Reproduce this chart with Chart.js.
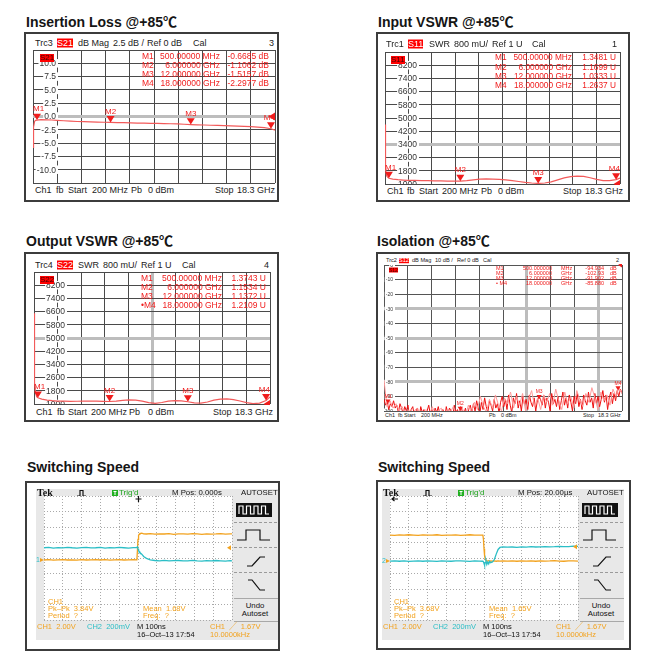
<!DOCTYPE html>
<html>
<head>
<meta charset="utf-8">
<title>Switch test data @+85℃</title>
<script src="https://cdn.jsdelivr.net/npm/chart.js@4.4.1/dist/chart.umd.min.js"></script>
<style>
  html, body { margin: 0; padding: 0; background: #fff; }
  body { position: relative; width: 654px; height: 671px; overflow: hidden;
         font-family: "Liberation Sans", Arial, "Noto Sans CJK SC", sans-serif; color: #222; }
  .title { position: absolute; font-size: 14px; font-weight: bold; line-height: 1; color: #151515; white-space: nowrap; }
  .box { position: absolute; box-sizing: border-box; border: 2px solid #3c3c3c; background: #fff; }
  .panel { position: absolute; background: #e8e8e8; }
  .txt { position: absolute; line-height: 1; white-space: pre; }
  canvas { position: absolute; }
  svg { position: absolute; overflow: visible; }
</style>
</head>
<body>
<script>
// ---- sweep / network analyser data (GHz, dB, mU) ----
const sweepStartGHz = 0.2;
const sweepStopGHz = 18.3;
const sweepFreq = [0.2, 0.22, 0.26, 0.32, 0.4, 0.5, 0.8, 1.2, 1.6, 2, 2.5, 3, 3.5, 4, 4.5, 5, 5.5, 6,
    6.5, 7, 7.5, 8, 8.5, 9, 9.5, 10, 10.5, 11, 11.5, 12, 12.5, 13, 13.5, 14, 14.5, 15, 15.5, 16,
    16.5, 17, 17.5, 18, 18.3];
const insertionLoss = [-5.8, -4.2, -2.0, -0.9, -0.72, -0.67, -0.6, -0.62, -0.66, -0.72,
    -0.8, -0.88, -0.94, -0.98, -1.02, -1.05, -1.08, -1.11, -1.14, -1.17, -1.2, -1.23, -1.26, -1.28,
    -1.3, -1.33, -1.36, -1.4, -1.46, -1.52, -1.56, -1.6, -1.64, -1.68, -1.72, -1.76, -1.8, -1.86,
    -1.92, -1.98, -2.08, -2.3, -2.55];
const inputVswr = [4600, 3000, 1900, 1500, 1420, 1348, 1300, 1260, 1240, 1225,
    1215, 1205, 1200, 1190, 1185, 1178, 1172, 1170, 1200, 1250, 1290, 1305, 1300, 1285,
    1250, 1200, 1150, 1100, 1060, 1033, 1060, 1130, 1250, 1370, 1450, 1480, 1460, 1380,
    1280, 1210, 1200, 1264, 1360];
const outputVswr = [6500, 3900, 2300, 1700, 1450, 1374, 1300, 1240, 1200, 1180,
    1170, 1165, 1168, 1175, 1178, 1172, 1160, 1153, 1180, 1220, 1245, 1230, 1170, 1080,
    1040, 1090, 1170, 1210, 1190, 1137, 1070, 1050, 1120, 1230, 1300, 1310, 1270, 1180,
    1080, 1020, 1050, 1211, 1420];
// isolation sweep points (trace and memory), dB
const isolationTrace = [-92, -96, -94, -99, -95, -97, -93, -98, -96, -101, -95,
    -98, -102, -97, -100, -96, -104, -99, -97, -103, -100,
    -98, -105, -97, -101, -99, -103, -100, -96, -102, -99,
    -104, -98, -101, -97, -103, -100, -99, -105, -97, -102,
    -98, -100, -104, -96, -101, -99, -103, -97, -100, -102,
    -98, -104, -99, -96, -101,
    -95, -100, -93, -98, -102, -94, -99, -91, -97, -101, -93, -96, -100, -92, -98, -95, -101,
    -94, -90, -97, -92, -99, -89, -96, -101, -91, -95, -88, -98, -93, -100, -90, -96, -92, -99,
    -89, -94, -97, -91, -100, -93, -90,
    -92, -96, -89, -98, -91, -94, -100, -88, -95, -92,
    -97, -90, -99, -93, -87, -96, -91, -98, -89, -94,
    -100, -90, -95, -88, -97, -92, -99, -89, -93, -96,
    -87, -94, -91, -98, -88, -95, -90, -97, -92, -86,
    -94, -89, -99, -91, -87, -95, -88, -93, -86, -90,
    -85, -88];
const isolationMemory = [-79, -97, -93, -98, -95, -100, -97, -101, -99, -102,
    -100, -98, -103, -101, -99, -104, -97, -102, -100, -98, -105, -99, -101, -97, -103, -100,
    -98, -104, -96, -101,
    -94, -99, -90, -97, -101, -92, -98, -89, -96, -100,
    -91, -95, -87, -98, -90, -96, -88, -100, -92, -86, -97, -91, -99, -89, -94,
    -88, -96, -85, -93, -99, -87, -95, -90, -98, -86, -92, -97, -88, -94, -84, -91, -99, -87,
    -93, -89, -96, -85, -90, -84, -88];

const markerNames = ['M1', 'M2', 'M3', 'M4'];
const markerFreq = [0.5, 6, 12, 18];
const markerStim = ['500.00000 MHz', '6.000000 GHz', '12.000000 GHz', '18.000000 GHz'];
const ilMarkers = [-0.6685, -1.1062, -1.5157, -2.2977];
const ilReadout = ['-0.6685 dB', '-1.1062 dB', '-1.5157 dB', '-2.2977 dB'];
const s11Markers = [1348.1, 1169.9, 1033.3, 1263.7];
const s11Readout = ['1.3481 U', '1.1699 U', '1.0333 U', '1.2637 U'];
const s22Markers = [1374.3, 1153.4, 1137.2, 1210.9];
const s22Readout = ['1.3743 U', '1.1534 U', '1.1372 U', '1.2109 U'];
const isoMarkers = [-94.934, -102.93, -91.902, -85.880];
const isoStim = ['500.000000', '6.000000', '12.000000', '18.000000'];
const isoUnit = ['MHz', 'GHz', 'GHz', 'GHz'];
const isoReadout = ['-94.934', '-102.93', '-91.902', '-85.880'];

const ilTicks = [-12.5, -10, -7.5, -5, -2.5, 0, 2.5, 5, 7.5, 10, 12.5];
const ilTickLabels = ['', '-10.0', '-7.5', '-5.0', '-2.5', '0.0', '2.5', '5.0', '7.5', '10.0', ''];
const vswrTicks = [1000, 1800, 2600, 3400, 4200, 5000, 5800, 6600, 7400, 8200, 9000];
const vswrTickLabels = ['1000', '1800', '2600', '3400', '4200', '5000', '5800', '6600', '7400', '8200', ''];
const isoTicks = [-100, -90, -80, -70, -60, -50, -40, -30, -20, -10, 0];
const isoTickLabels = ['-100', '-90', '-80', '-70', '-60', '-50', '-40', '-30', '-20', '-10', '0'];

// ---- oscilloscope data (ns, divisions) ----
const scopeTimeTicks = [-500, -400, -300, -200, -100, 0, 100, 200, 300, 400, 500];
const scopeDivTicks = [-4, -3, -2, -1, 0, 1, 2, 3, 4];
const riseTime = [-500, -475, -450, -425, -400, -375, -350, -325, -300, -275, -250, -225, -200, -175,
    -150, -125, -100, -75, -50, -25, -6, -3, 0, 3, 6, 10, 20, 30, 45, 65, 90, 115, 140, 165, 190,
    215, 240, 265, 290, 315, 340, 365, 390, 415, 440, 465, 490, 500];
const riseCh1 = [-0.13, -0.11, -0.14, -0.12, -0.1, -0.13, -0.12, -0.14, -0.11, -0.13, -0.12, -0.1,
    -0.13, -0.11, -0.14, -0.12, -0.1, -0.13, -0.12, -0.11, -0.12, 0.5, 1.2, 1.45, 1.52, 1.58, 1.6,
    1.56, 1.55, 1.57, 1.54, 1.56, 1.55, 1.57, 1.53, 1.56, 1.55, 1.54, 1.57, 1.55, 1.53, 1.56, 1.54,
    1.55, 1.57, 1.54, 1.56, 1.55];
const riseCh2 = [0.66, 0.68, 0.64, 0.67, 0.65, 0.69, 0.66, 0.64, 0.67, 0.68, 0.65, 0.66, 0.69, 0.64,
    0.67, 0.65, 0.68, 0.66, 0.64, 0.67, 0.68, 0.72, 0.6, 0.5, 0.42, 0.35, 0.25, 0.1, -0.02, -0.12,
    -0.16, -0.18, -0.15, -0.19, -0.17, -0.16, -0.19, -0.18, -0.15, -0.18, -0.2, -0.17, -0.19, -0.16,
    -0.18, -0.2, -0.17, -0.19];
const fallTime = [-500, -475, -450, -425, -400, -375, -350, -325, -300, -275, -250, -225, -200, -175,
    -150, -125, -100, -75, -50, -25, -6, -3, 0, 3, 6, 10, 15, 20, 25, 30, 35, 45, 55, 65, 75, 85, 100,
    125, 150, 175, 200, 225, 250, 275, 300, 325, 350, 375, 400, 425, 450, 475, 500];
const fallCh1 = [1.48, 1.46, 1.49, 1.47, 1.5, 1.48, 1.46, 1.49, 1.47, 1.48, 1.5, 1.46, 1.48, 1.47,
    1.49, 1.46, 1.48, 1.5, 1.47, 1.48, 1.47, 1.2, 0.6, 0.15, -0.05, -0.12, -0.18, -0.2, -0.17, -0.21,
    -0.19, -0.2, -0.18, -0.21, -0.19, -0.2, -0.18, -0.2, -0.19, -0.21, -0.18, -0.2, -0.19, -0.21,
    -0.18, -0.2, -0.19, -0.17, -0.2, -0.21, -0.19, -0.18, -0.2];
const fallCh2 = [-0.2, -0.18, -0.21, -0.19, -0.22, -0.2, -0.18, -0.21, -0.19, -0.2, -0.22, -0.18,
    -0.2, -0.21, -0.19, -0.18, -0.2, -0.22, -0.19, -0.2, -0.21, -0.25, -0.35, -0.48, -0.3, -0.15,
    -0.42, -0.25, -0.38, -0.22, -0.3, -0.25, -0.1, 0.25, 0.55, 0.68, 0.72, 0.7, 0.71, 0.69, 0.72,
    0.7, 0.73, 0.71, 0.72, 0.74, 0.72, 0.73, 0.75, 0.73, 0.74, 0.76, 0.75];

const red = '#f01c1c';
const orange = '#f2a21e';
const teal = '#2bbec6';

// ---------- helpers ----------
function addDiv(cls, x, y, w, h) {
    const el = document.createElement('div');
    el.className = cls;
    el.style.left = x + 'px';
    el.style.top = y + 'px';
    if (w) el.style.width = w + 'px';
    if (h) el.style.height = h + 'px';
    document.body.appendChild(el);
    return el;
}

function addTitle(x, y, text) {
    addDiv('title', x, y).textContent = text;
}

function addText(x, y, text, opt) {
    opt = opt || {};
    const el = addDiv('txt', x, y);
    el.textContent = text;
    el.style.fontSize = (opt.size || 9) + 'px';
    if (opt.color) el.style.color = opt.color;
    if (opt.bg) el.style.background = opt.bg;
    if (opt.bold) el.style.fontWeight = 'bold';
    if (opt.family) el.style.fontFamily = opt.family;
    el.style.transform = opt.align === 'right' ? 'translate(-100%,-50%)'
        : opt.align === 'center' ? 'translate(-50%,-50%)' : 'translateY(-50%)';
    return el;
}

function addCanvas(x, y, w, h) {
    const c = document.createElement('canvas');
    c.width = w;
    c.height = h;
    c.style.left = x + 'px';
    c.style.top = y + 'px';
    c.style.width = w + 'px';
    c.style.height = h + 'px';
    document.body.appendChild(c);
    return c;
}

function addSvg(x, y, w, h, inner) {
    const d = addDiv('', x, y);
    d.style.position = 'absolute';
    d.innerHTML = '<svg width="' + w + '" height="' + h + '" style="position:static">' + inner + '</svg>';
    return d;
}

// ---------- network analyser panels ----------
const vnaDecor = {
    id: 'vnaDecor',
    beforeDatasetsDraw(chart, args, o) {
        const { ctx, chartArea: a, scales: { y } } = chart;
        ctx.save();
        ctx.beginPath();
        ctx.rect(a.left, a.top, a.right - a.left, a.bottom - a.top);
        ctx.clip();
        ctx.font = o.fontPx + 'px "Liberation Sans", Arial, sans-serif';
        ctx.textAlign = 'right';
        ctx.textBaseline = 'middle';
        o.ticks.forEach((v, i) => {
            const t = o.tickLabels[i];
            if (!t) return;
            const py = y.getPixelForValue(v);
            const w = ctx.measureText(t).width;
            const rx = a.left + o.labelRight;
            ctx.fillStyle = '#fff';
            ctx.fillRect(rx - w - 1, py - o.fontPx / 2, w + 3, o.fontPx);
            ctx.fillStyle = '#333';
            ctx.fillText(t, rx, py + 0.5);
        });
        ctx.restore();
    },
    afterDatasetsDraw(chart, args, o) {
        const { ctx, chartArea: a, scales: { x, y } } = chart;
        const s = o.markSize;
        ctx.save();
        ctx.fillStyle = red;
        ctx.font = o.markFont + 'px "Liberation Sans", Arial, sans-serif';
        ctx.textAlign = 'center';
        ctx.textBaseline = 'bottom';
        o.markerVals.forEach((v, i) => {
            const px = x.getPixelForValue(o.markerFreq[i]);
            const py = Math.min(y.getPixelForValue(v), a.bottom);
            ctx.beginPath();
            ctx.moveTo(px - s, py - s * 1.6);
            ctx.lineTo(px + s, py - s * 1.6);
            ctx.lineTo(px, py);
            ctx.closePath();
            ctx.fill();
            const lx = Math.max(a.left + o.markFont * 0.7, Math.min(px, a.right - o.markFont * 0.7));
            ctx.fillText(o.markerNames[i], lx, py - s * 1.6 - 0.5);
        });
        // reference level arrow on the right edge
        const ry = y.getPixelForValue(o.refLevel);
        const r = o.refSize;
        ctx.beginPath();
        ctx.moveTo(a.right, ry - r);
        ctx.lineTo(a.right, ry + r);
        ctx.lineTo(a.right - r * 1.6, ry);
        ctx.closePath();
        ctx.fill();
        ctx.restore();
    }
};

function vnaChart(p) {
    const r = p.rect;
    const c = addCanvas(r.l - 1, r.t - 1, r.r - r.l + 2, r.b - r.t + 2);
    const xGrid = [];
    for (let k = 0; k <= 10; k++) xGrid.push(sweepStartGHz + k * (sweepStopGHz - sweepStartGHz) / 10);
    const thickColor = '#bdbdbd';
    return new Chart(c, {
        type: 'line',
        data: {
            datasets: p.traces.map(t => ({
                data: t.x.map((f, i) => ({ x: f, y: t.y[i] })),
                borderColor: t.color,
                borderWidth: t.width || 1.2,
                pointRadius: 0,
                tension: 0
            }))
        },
        options: {
            responsive: false,
            animation: false,
            devicePixelRatio: 1,
            layout: { padding: 1 },
            plugins: { legend: { display: false }, tooltip: { enabled: false }, vnaDecor: p.decor },
            scales: {
                x: {
                    type: 'linear', min: sweepStartGHz, max: sweepStopGHz,
                    afterBuildTicks: s => { s.ticks = xGrid.map(v => ({ value: v })); },
                    ticks: { display: false },
                    border: { display: false },
                    grid: {
                        drawTicks: false,
                        color: ctx => p.thickX.includes(ctx.index) ? thickColor : p.gridColor,
                        lineWidth: ctx => p.thickX.includes(ctx.index) ? 3 : 1
                    }
                },
                y: {
                    type: 'linear', min: p.ticks[0], max: p.ticks[p.ticks.length - 1],
                    afterBuildTicks: s => { s.ticks = p.ticks.map(v => ({ value: v })); },
                    ticks: { display: false },
                    border: { display: false },
                    grid: {
                        drawTicks: false,
                        color: ctx => p.thickY.includes(ctx.tick.value) ? thickColor : p.gridColor,
                        lineWidth: ctx => p.thickY.includes(ctx.tick.value) ? 3 : 1
                    }
                }
            }
        },
        plugins: [vnaDecor]
    });
}

function vnaText(rows, y, size) {
    rows.forEach(r => addText(r[0], y, r[1], Object.assign({ size: size }, r[2] || {})));
}

function markerTable(names, stim, vals, cols, rowsY, size, extra) {
    names.forEach((n, i) => {
        addText(cols[0], rowsY[i], n, { size: size, color: red });
        addText(cols[1], rowsY[i], stim[i], { size: size, color: red, align: 'right' });
        if (extra) addText(cols[3], rowsY[i], extra[i], { size: size, color: red });
        addText(cols[2], rowsY[i], vals[i], { size: size, color: red, align: 'right' });
    });
}

const badge = { color: '#fff', bg: '#f00' };
const plotBadge = { color: '#400', bg: '#f00' };

// boxes and titles
addTitle(26, 15, 'Insertion Loss @+85℃');
addTitle(378, 15, 'Input VSWR @+85℃');
addTitle(26, 233.5, 'Output VSWR @+85℃');
addTitle(377, 233.5, 'Isolation @+85℃');
addTitle(27, 460, 'Switching Speed');
addTitle(378, 460, 'Switching Speed');
addDiv('box', 24, 32, 255, 170);
addDiv('box', 376, 32, 254, 170);
addDiv('box', 24, 252, 255, 170);
addDiv('box', 376, 252, 254, 170);

// Insertion loss
vnaChart({
    rect: { l: 33, t: 50, r: 275, b: 183 },
    ticks: ilTicks, thickY: [0], thickX: [], gridColor: '#4a4a4a',
    traces: [{ x: sweepFreq, y: insertionLoss, color: '#f25a5a' }],
    decor: {
        ticks: ilTicks, tickLabels: ilTickLabels, labelRight: 23, fontPx: 8.5,
        markerFreq: markerFreq, markerVals: ilMarkers, markerNames: markerNames,
        markSize: 4, markFont: 8, refLevel: 0, refSize: 4
    }
});
vnaText([[35, 'Trc3'], [57, 'S21', badge], [78, 'dB Mag'], [113, '2.5 dB /'], [147, 'Ref 0 dB'],
    [193, 'Cal'], [274, '3', { align: 'right' }]], 43, 9);
vnaText([[35, 'Ch1'], [56, 'fb'], [68, 'Start'], [92, '200 MHz'], [131, 'Pb'], [148, '0 dBm'],
    [215, 'Stop'], [237, '18.3 GHz']], 190, 9);
addText(40, 58, 'S21', Object.assign({ size: 8 }, plotBadge));
markerTable(markerNames, markerStim, ilReadout, [142, 220, 269], [56, 65, 74, 83], 8.5);

// Input VSWR
vnaChart({
    rect: { l: 385, t: 52, r: 620, b: 184 },
    ticks: vswrTicks, thickY: [3400], thickX: [], gridColor: '#4a4a4a',
    traces: [{ x: sweepFreq, y: inputVswr, color: '#f25a5a' }],
    decor: {
        ticks: vswrTicks, tickLabels: vswrTickLabels, labelRight: 32, fontPx: 8.5,
        markerFreq: markerFreq, markerVals: s11Markers, markerNames: markerNames,
        markSize: 4, markFont: 8, refLevel: 1000, refSize: 4
    }
});
vnaText([[386, 'Trc1'], [408, 'S11', badge], [429, 'SWR'], [454, '800 mU/'], [492, 'Ref 1 U'],
    [532, 'Cal'], [617, '1', { align: 'right' }]], 44, 9);
vnaText([[387, 'Ch1'], [407, 'fb'], [419, 'Start'], [442, '200 MHz'], [481, 'Pb'], [498, '0 dBm'],
    [563, 'Stop'], [585, '18.3 GHz']], 191, 9);
addText(391, 59.5, 'S11', Object.assign({ size: 8 }, plotBadge));
markerTable(markerNames, markerStim, s11Readout, [495, 572, 616], [57, 66.5, 76, 85], 8.3);

// Output VSWR
vnaChart({
    rect: { l: 34, t: 272, r: 270, b: 404 },
    ticks: vswrTicks, thickY: [5000], thickX: [5], gridColor: '#4a4a4a',
    traces: [{ x: sweepFreq, y: outputVswr, color: '#f25a5a' }],
    decor: {
        ticks: vswrTicks, tickLabels: vswrTickLabels, labelRight: 31, fontPx: 8.5,
        markerFreq: markerFreq, markerVals: s22Markers, markerNames: markerNames,
        markSize: 4, markFont: 8, refLevel: 1000, refSize: 4
    }
});
vnaText([[35, 'Trc4'], [57, 'S22', badge], [78, 'SWR'], [103, '800 mU/'], [141, 'Ref 1 U'],
    [182, 'Cal'], [269, '4', { align: 'right' }]], 265, 9);
vnaText([[36, 'Ch1'], [57, 'fb'], [68, 'Start'], [91, '200 MHz'], [129, 'Pb'], [148, '0 dBm'],
    [213, 'Stop'], [235, '18.3 GHz']], 412, 9);
addText(40, 279.5, 'S22', Object.assign({ size: 8 }, plotBadge));
markerTable(['M1', 'M2', 'M3', '\u2022M4'], markerStim, s22Readout, [141, 222, 266], [278, 287, 296, 305], 8.5);

// Isolation
const isoFreqTrace = isolationTrace.map((v, i) => sweepStartGHz + i * (sweepStopGHz - sweepStartGHz) / (isolationTrace.length - 1));
const isoFreqMemory = isolationMemory.map((v, i) => sweepStartGHz + i * (sweepStopGHz - sweepStartGHz) / (isolationMemory.length - 1));
vnaChart({
    rect: { l: 384, t: 265, r: 622, b: 411 },
    ticks: isoTicks, thickY: [-30, -50, -80], thickX: [6, 9], gridColor: '#555',
    traces: [
        { x: isoFreqMemory, y: isolationMemory, color: '#ff9a9a', width: 1 },
        { x: isoFreqTrace, y: isolationTrace, color: '#ee1010', width: 1 }
    ],
    decor: {
        ticks: isoTicks, tickLabels: isoTickLabels, labelRight: 9, fontPx: 5,
        markerFreq: markerFreq, markerVals: isoMarkers, markerNames: markerNames,
        markSize: 2.6, markFont: 5, refLevel: 0, refSize: 2.5
    }
});
vnaText([[386, 'Trc2'], [399, 'S12', badge], [412, 'dB Mag'], [435, '10 dB /'], [457, 'Ref 0 dB'],
    [483, 'Cal'], [619, '2', { align: 'right' }]], 260.5, 5.6);
vnaText([[385, 'Ch1'], [398, 'fb'], [404, 'Start'], [421, '200 MHz'], [489, 'Pb'], [501, '0 dBm'],
    [583, 'Stop'], [598, '18.3 GHz']], 416, 5.4);
addText(389, 270, 'S12', Object.assign({ size: 5 }, plotBadge));
markerTable(['M1', 'M2', 'M3', '\u2022 M4'], isoStim, isoReadout, [496, 552, 604, 561], [269, 274, 279, 284], 5.5, isoUnit);
['dB', 'dB', 'dB', 'dB'].forEach((u, i) => addText(610, [269, 274, 279, 284][i], u, { size: 5.5, color: red }));

// ---------- oscilloscope panels ----------
const scopeDecor = {
    id: 'scopeDecor',
    beforeDraw(chart) {
        const { ctx, chartArea: a } = chart;
        ctx.save();
        ctx.fillStyle = '#fff';
        ctx.fillRect(a.left, a.top, a.width, a.height);
        ctx.restore();
    },
    afterDatasetsDraw(chart, args, o) {
        const { ctx, chartArea: a, scales: { x, y } } = chart;
        ctx.save();
        // ground marker at the left of the screen
        const gy = y.getPixelForValue(o.ground);
        ctx.font = '7px "Liberation Sans", Arial, sans-serif';
        ctx.textBaseline = 'middle';
        ctx.fillStyle = teal;
        ctx.fillText(o.groundLabel, a.left - 8, gy);
        ctx.fillStyle = orange;
        ctx.beginPath();
        ctx.moveTo(a.left - 4, gy - 2);
        ctx.lineTo(a.left, gy);
        ctx.lineTo(a.left - 4, gy + 2);
        ctx.closePath();
        ctx.fill();
        // trigger level
        const ty = y.getPixelForValue(o.trigLevel);
        ctx.beginPath();
        ctx.moveTo(a.right - 1, ty - 2.5);
        ctx.lineTo(a.right - 5, ty);
        ctx.lineTo(a.right - 1, ty + 2.5);
        ctx.closePath();
        ctx.fill();
        // trigger position
        ctx.strokeStyle = '#111';
        ctx.lineWidth = 1.2;
        ctx.beginPath();
        if (o.trigPos >= x.min && o.trigPos <= x.max) {
            const tx = Math.round(x.getPixelForValue(o.trigPos)) + 0.5;
            ctx.moveTo(tx - 3, a.top + 3);
            ctx.lineTo(tx + 3, a.top + 3);
            ctx.moveTo(tx, a.top);
            ctx.lineTo(tx, a.top + 6);
        } else {
            ctx.moveTo(a.left + 2, a.top + 3);
            ctx.lineTo(a.left + 8, a.top + 3);
            ctx.moveTo(a.left + 4.5, a.top + 1);
            ctx.lineTo(a.left + 2, a.top + 3);
            ctx.lineTo(a.left + 4.5, a.top + 5);
        }
        ctx.stroke();
        ctx.restore();
    }
};

function scopePanel(p) {
    const L = p.left;
    addDiv('box', p.boxLeft, p.boxTop, 255, 170);
    addDiv('panel', L, 489, 242, 151);
    const dash = 'stroke="#9a9a9a" stroke-width="1" stroke-dasharray="3,2"';
    const solid = 'stroke="#a8a8a8" stroke-width="1"';
    const icon = 'fill="none" stroke="#111" stroke-width="1.2"';
    addSvg(L, 489, 242, 151,
        '<path d="M41 7H44V1.5H47V7H50" ' + icon + '/>' +
        '<rect x="76" y="1" width="6" height="6" fill="#22b022"/>' +
        '<path d="M77.5 2.5H80.5M79 2.5V6" stroke="#fff" stroke-width="1"/>' +
        '<rect x="200" y="14" width="36" height="14" fill="#111"/>' +
        '<path d="M203 25V17H207V25H210.5V17H214.5V25H218V17H222V25H225.5V17H229.5V25H233" fill="none" stroke="#fff" stroke-width="1.2"/>' +
        '<line x1="198" y1="33.5" x2="242" y2="33.5" ' + dash + '/>' +
        '<line x1="198" y1="58.5" x2="242" y2="58.5" ' + dash + '/>' +
        '<line x1="198" y1="83.5" x2="242" y2="83.5" ' + dash + '/>' +
        '<line x1="198" y1="109.5" x2="242" y2="109.5" ' + solid + '/>' +
        '<line x1="198" y1="132.5" x2="242" y2="132.5" ' + solid + '/>' +
        '<path d="M201 51H210V41H224V51H234" ' + icon + '/>' +
        '<path d="M211 77H216L224 68H229" ' + icon + '/>' +
        '<path d="M212 91H216L224 101H229" ' + icon + '/>');

    const scr = { l: L + 8, t: 496, r: L + 196, b: 620 };
    const c = addCanvas(scr.l - 9, scr.t - 1, scr.r - scr.l + 11, scr.b - scr.t + 2);
    new Chart(c, {
        type: 'line',
        data: {
            datasets: [
                { data: p.time.map((t, i) => ({ x: t, y: p.ch2[i] })), borderColor: teal, borderWidth: 1.3, pointRadius: 0, tension: 0 },
                { data: p.time.map((t, i) => ({ x: t, y: p.ch1[i] })), borderColor: orange, borderWidth: 1.3, pointRadius: 0, tension: 0 }
            ]
        },
        options: {
            responsive: false,
            animation: false,
            devicePixelRatio: 1,
            layout: { padding: { left: 9, right: 2, top: 1, bottom: 1 } },
            plugins: { legend: { display: false }, tooltip: { enabled: false }, scopeDecor: p.decor },
            scales: {
                x: {
                    type: 'linear', min: -500, max: 500,
                    afterBuildTicks: s => { s.ticks = scopeTimeTicks.map(v => ({ value: v })); },
                    ticks: { display: false },
                    border: { display: false, dash: [1, 2] },
                    grid: { drawTicks: false, color: '#a9a9a9' }
                },
                y: {
                    type: 'linear', min: -4, max: 4,
                    afterBuildTicks: s => { s.ticks = scopeDivTicks.map(v => ({ value: v })); },
                    ticks: { display: false },
                    border: { display: false, dash: [1, 2] },
                    grid: { drawTicks: false, color: '#a9a9a9' }
                }
            }
        },
        plugins: [scopeDecor]
    });

    const s = 7.5;
    addText(L + 1, 493, 'Tek', { size: 10, bold: true, family: '"Liberation Serif", serif', color: '#111' });
    addText(L + 83, 493, "Trig'd", { size: 8, color: '#1fa51f' });
    addText(L + 136, 493, p.mpos, { size: 7.8, color: '#111' });
    addText(L + 205, 493, 'AUTOSET', { size: 7.8, color: '#111' });
    addText(L + 219, 606, 'Undo', { size: 7.8, color: '#111', align: 'center' });
    addText(L + 219, 614, 'Autoset', { size: 7.8, color: '#111', align: 'center' });
    addText(L + 12, 602, 'CH1', { size: s, color: orange });
    addText(L + 12, 609, p.pkpk, { size: s, color: orange });
    addText(L + 12, 616, 'Period  ?', { size: s, color: orange });
    addText(L + 107, 609, p.mean, { size: s, color: orange });
    addText(L + 107, 616, 'Freq:  ?', { size: s, color: orange });
    addText(L + 1, 627, 'CH1  2.00V', { size: s, color: orange });
    addText(L + 51, 627, 'CH2  200mV', { size: s, color: teal });
    addText(L + 101, 627, 'M 100ns', { size: s, color: '#111' });
    addText(L + 174, 627, 'CH1  \u2571  1.67V', { size: s, color: orange });
    addText(L + 101, 634.5, '16\u2013Oct\u201313 17:54', { size: s, color: '#111' });
    addText(L + 174, 634.5, '10.0000kHz', { size: s, color: orange });
}

scopePanel({
    left: 36, boxLeft: 25, boxTop: 481,
    time: riseTime, ch1: riseCh1, ch2: riseCh2,
    mpos: 'M Pos: 0.000s', pkpk: 'Pk\u2013Pk  3.84V', mean: 'Mean  1.68V',
    decor: { ground: -0.13, groundLabel: '1', trigLevel: 0.66, trigPos: 0 }
});
scopePanel({
    left: 382, boxLeft: 376, boxTop: 480,
    time: fallTime, ch1: fallCh1, ch2: fallCh2,
    mpos: 'M Pos: 20.00\u00b5s', pkpk: 'Pk\u2013Pk  3.68V', mean: 'Mean  1.65V',
    decor: { ground: -0.2, groundLabel: '2', trigLevel: 0.72, trigPos: 20000 }
});
</script>
</body>
</html>
